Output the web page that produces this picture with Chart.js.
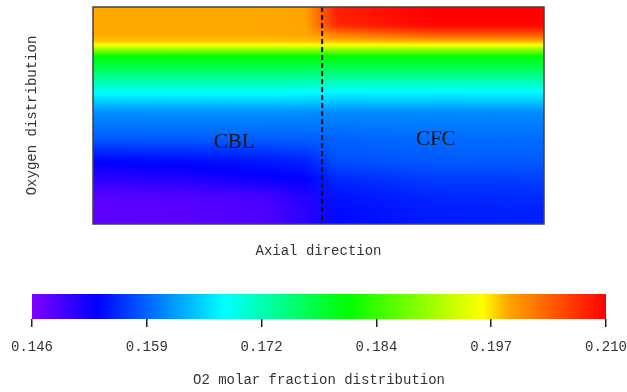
<!DOCTYPE html>
<html>
<head>
<meta charset="utf-8">
<script src="https://cdn.jsdelivr.net/npm/chart.js@4.4.0/dist/chart.umd.min.js"></script>
<style>
  html, body { margin: 0; padding: 0; background: #fff; }
  #wrap { position: relative; width: 627px; height: 392px; }
  #heat { position: absolute; left: 0; top: 0; }
  #cbar { position: absolute; left: 0; top: 270px; }
</style>
</head>
<body>
<div id="wrap">
  <canvas id="heat" width="627" height="270"></canvas>
  <canvas id="cbar" width="627" height="122"></canvas>
</div>
<script>
// rows of the field, fraction of channel height measured from the top
var depth = [0, 0.046, 0.097, 0.124, 0.143, 0.198, 0.290, 0.382, 0.484, 0.613, 0.728, 0.820, 0.912, 1];
// axial positions of the sampled profiles (fraction of length)
var colX = [0, 0.2, 0.38, 0.47, 0.54, 0.75, 1];

// O2 molar fraction profiles, top -> bottom
var prof0 = [0.1990, 0.1990, 0.1989, 0.1980, 0.1960, 0.1813, 0.1745, 0.1675, 0.1612, 0.1584, 0.1535, 0.1508, 0.1482, 0.1479];
var prof1 = [0.1990, 0.1990, 0.1989, 0.1980, 0.1960, 0.1813, 0.1745, 0.1675, 0.1612, 0.1585, 0.1540, 0.1515, 0.1485, 0.1482];
var prof2 = [0.1990, 0.1990, 0.1989, 0.1980, 0.1960, 0.1813, 0.1745, 0.1675, 0.1612, 0.1586, 0.1546, 0.1527, 0.1492, 0.1488];
var prof3 = [0.1992, 0.1992, 0.1990, 0.1981, 0.1960, 0.1813, 0.1745, 0.1674, 0.1611, 0.1587, 0.1552, 0.1533, 0.1512, 0.1508];
var prof4 = [0.2079, 0.2070, 0.2007, 0.1982, 0.1960, 0.1812, 0.1742, 0.1670, 0.1610, 0.1588, 0.1577, 0.1555, 0.1542, 0.1537];
var prof5 = [0.2100, 0.2094, 0.2033, 0.1985, 0.1960, 0.1812, 0.1742, 0.1670, 0.1610, 0.1592, 0.1582, 0.1566, 0.1553, 0.1548];
var prof6 = [0.2100, 0.2094, 0.2033, 0.1985, 0.1960, 0.1812, 0.1742, 0.1670, 0.1610, 0.1592, 0.1584, 0.1568, 0.1556, 0.1550];
var profiles = [prof0, prof1, prof2, prof3, prof4, prof5, prof6];

// CBL / CFC interface (axial fraction)
var interfacePos = 0.508;
var zoneNames = ['CBL', 'CFC'];
var zoneX = [0.313, 0.76];
var zoneDepth = [0.635, 0.62];

// colour bar
var cbarTicks = [0.146, 0.1588, 0.1716, 0.1844, 0.1972, 0.210];
var vMin = 0.146, vMax = 0.210;
var cmapPos = [0, 0.113, 0.334, 0.55, 0.784, 0.83, 1];
var cmapRGB = [[128, 0, 255], [0, 0, 255], [0, 255, 255], [0, 255, 0], [255, 255, 0], [255, 165, 0], [255, 0, 0]];

var monoFont = "'Liberation Mono', 'Courier New', monospace";

function cmap(v) {
  var f = (v - vMin) / (vMax - vMin);
  f = Math.max(0, Math.min(1, f));
  for (var i = 0; i < cmapPos.length - 1; i++) {
    if (f <= cmapPos[i + 1]) {
      var t = (f - cmapPos[i]) / (cmapPos[i + 1] - cmapPos[i]);
      var a = cmapRGB[i], b = cmapRGB[i + 1];
      return 'rgb(' + Math.round(a[0] + (b[0] - a[0]) * t) + ',' +
        Math.round(a[1] + (b[1] - a[1]) * t) + ',' +
        Math.round(a[2] + (b[2] - a[2]) * t) + ')';
    }
  }
  return 'rgb(255,0,0)';
}

// vertical shading of one profile; colour map knots crossed between two rows get their own stop
function profGradient(ctx, yd, vals) {
  var g = ctx.createLinearGradient(0, yd.getPixelForValue(0), 0, yd.getPixelForValue(1));
  for (var i = 0; i < vals.length; i++) {
    g.addColorStop(depth[i], cmap(vals[i]));
    if (i < vals.length - 1) {
      var v0 = vals[i], v1 = vals[i + 1];
      for (var k = 1; k < cmapPos.length - 1; k++) {
        var kv = vMin + cmapPos[k] * (vMax - vMin);
        if ((kv - v0) * (kv - v1) < 0) {
          var t = (kv - v0) / (v1 - v0);
          g.addColorStop(depth[i] + t * (depth[i + 1] - depth[i]), cmap(kv));
        }
      }
    }
  }
  return g;
}

// field image: neighbouring profiles blended across each strip
var fieldCanvas = null;
function fieldPattern(chart) {
  var a = chart.chartArea;
  if (!a) return null;
  if (!fieldCanvas) {
    var x = chart.scales.x, yd = chart.scales.yd;
    fieldCanvas = document.createElement('canvas');
    fieldCanvas.width = chart.width;
    fieldCanvas.height = chart.height;
    var fctx = fieldCanvas.getContext('2d');
    var tmp = document.createElement('canvas');
    tmp.width = chart.width;
    tmp.height = chart.height;
    var tctx = tmp.getContext('2d');
    var top = Math.floor(a.top) - 2, h = Math.ceil(a.bottom) + 2 - top;
    for (var i = 0; i < profiles.length - 1; i++) {
      var xa = x.getPixelForValue(colX[i]), xb = x.getPixelForValue(colX[i + 1]);
      var x0 = Math.floor(xa) - (i === 0 ? 2 : 0);
      var x1 = Math.ceil(xb) + (i === profiles.length - 2 ? 2 : 0);
      fctx.fillStyle = profGradient(fctx, yd, profiles[i]);
      fctx.fillRect(x0, top, x1 - x0, h);
      tctx.globalCompositeOperation = 'source-over';
      tctx.clearRect(0, 0, tmp.width, tmp.height);
      tctx.fillStyle = profGradient(tctx, yd, profiles[i + 1]);
      tctx.fillRect(x0, top, x1 - x0, h);
      tctx.globalCompositeOperation = 'destination-in';
      var m = tctx.createLinearGradient(xa, 0, xb, 0);
      m.addColorStop(0, 'rgba(0,0,0,0)');
      m.addColorStop(1, 'rgba(0,0,0,1)');
      tctx.fillStyle = m;
      tctx.fillRect(0, 0, tmp.width, tmp.height);
      fctx.drawImage(tmp, 0, 0);
    }
  }
  return chart.ctx.createPattern(fieldCanvas, 'no-repeat');
}

var heatDatasets = [];
for (var s = 0; s < profiles.length - 1; s++) {
  heatDatasets.push({
    data: [[colX[s], colX[s + 1]]],
    backgroundColor: function(c) { return fieldPattern(c.chart); },
    borderWidth: 0,
    inflateAmount: 0.5,
    barPercentage: 1,
    categoryPercentage: 1,
    grouped: false
  });
}

var overlay = {
  id: 'overlay',
  afterDatasetsDraw: function(chart) {
    var ctx = chart.ctx, a = chart.chartArea;
    var x = chart.scales.x, yd = chart.scales.yd;
    ctx.save();
    // interface line
    ctx.strokeStyle = '#111';
    ctx.lineWidth = 2;
    ctx.setLineDash([5, 3]);
    var xi = x.getPixelForValue(interfacePos);
    ctx.beginPath();
    ctx.moveTo(xi, a.top);
    ctx.lineTo(xi, a.bottom);
    ctx.stroke();
    ctx.setLineDash([]);
    // frame
    ctx.strokeStyle = '#404040';
    ctx.lineWidth = 1.5;
    ctx.strokeRect(a.left, a.top, a.right - a.left, a.bottom - a.top);
    // zone names
    ctx.fillStyle = '#111';
    ctx.font = "21px 'Liberation Serif', 'Times New Roman', serif";
    ctx.textAlign = 'center';
    ctx.textBaseline = 'middle';
    for (var i = 0; i < zoneNames.length; i++) {
      ctx.fillText(zoneNames[i], x.getPixelForValue(zoneX[i]), yd.getPixelForValue(zoneDepth[i]));
    }
    // axis titles
    ctx.fillStyle = '#333';
    ctx.font = '14px ' + monoFont;
    ctx.fillText('Axial direction', (a.left + a.right) / 2, a.bottom + 27);
    ctx.translate(a.left - 61, (a.top + a.bottom) / 2);
    ctx.rotate(-Math.PI / 2);
    ctx.fillText('Oxygen distribution', 0, 0);
    ctx.restore();
  }
};

new Chart(document.getElementById('heat'), {
  type: 'bar',
  data: { labels: [''], datasets: heatDatasets },
  options: {
    indexAxis: 'y',
    responsive: false,
    animation: false,
    devicePixelRatio: 1,
    layout: { padding: { left: 93, right: 83, top: 7, bottom: 46 } },
    plugins: { legend: { display: false }, tooltip: { enabled: false } },
    scales: {
      x: { type: 'linear', min: 0, max: 1, display: false },
      y: { display: false },
      yd: { type: 'linear', axis: 'y', min: 0, max: 1, reverse: true, display: false }
    }
  },
  plugins: [overlay]
});

new Chart(document.getElementById('cbar'), {
  type: 'bar',
  data: {
    labels: [''],
    datasets: [{
      data: [[vMin, vMax]],
      backgroundColor: function(c) {
        var a = c.chart.chartArea;
        if (!a) return null;
        var g = c.chart.ctx.createLinearGradient(a.left, 0, a.right, 0);
        for (var i = 0; i < cmapPos.length; i++) {
          g.addColorStop(cmapPos[i], 'rgb(' + cmapRGB[i].join(',') + ')');
        }
        return g;
      },
      borderWidth: 0,
      barPercentage: 1,
      categoryPercentage: 1
    }]
  },
  options: {
    indexAxis: 'y',
    responsive: false,
    animation: false,
    devicePixelRatio: 1,
    layout: { padding: { left: 32, right: 21, top: 24, bottom: 0 } },
    plugins: { legend: { display: false }, tooltip: { enabled: false } },
    scales: {
      y: { display: false },
      x: {
        type: 'linear',
        min: vMin,
        max: vMax,
        afterBuildTicks: function(s) { s.ticks = cbarTicks.map(function(v) { return { value: v }; }); },
        afterFit: function(s) { s.height = 73; s.paddingLeft = 0; s.paddingRight = 0; },
        grid: { drawOnChartArea: false, drawTicks: true, tickLength: 8, color: '#222', lineWidth: 1.5 },
        border: { display: false },
        ticks: {
          autoSkip: false,
          maxRotation: 0,
          padding: 12,
          color: '#333',
          font: { family: monoFont, size: 14 },
          callback: function(v) { return Number(v).toFixed(3); }
        },
        title: {
          display: true,
          text: 'O2 molar fraction distribution',
          color: '#333',
          font: { family: monoFont, size: 14 },
          padding: { top: 0, bottom: 3 }
        }
      }
    }
  }
});
</script>
</body>
</html>
